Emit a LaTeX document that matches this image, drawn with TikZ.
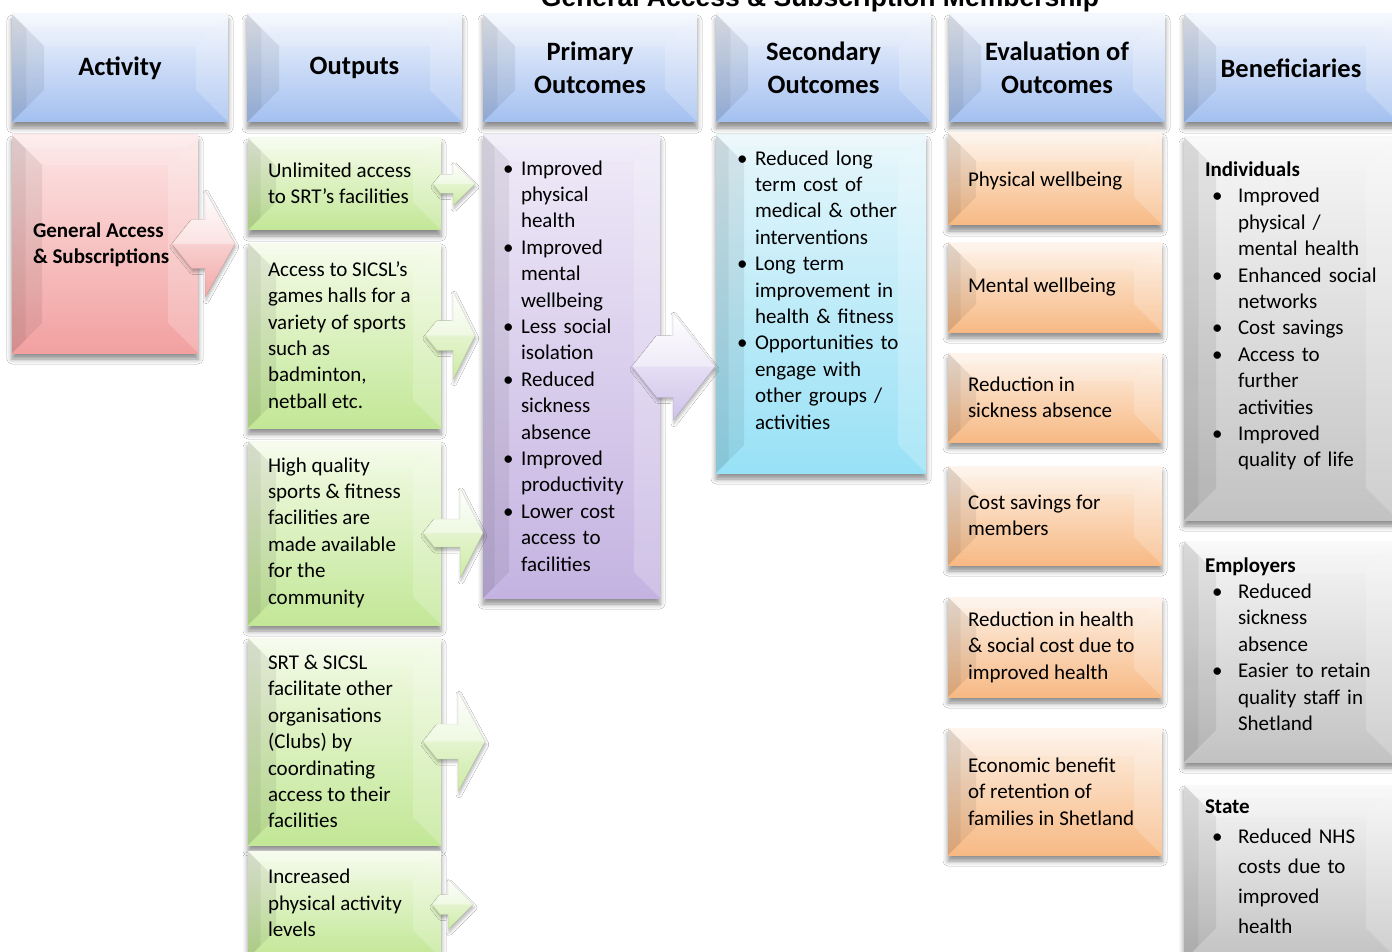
\documentclass[tikz,border=0pt]{standalone}
\usepackage{fontspec}
\setmainfont{Carlito}
\newfontfamily\titlefont{Liberation Sans}
\usetikzlibrary{calc,shadows.blur}

\definecolor{hdrT}{HTML}{F2F6FD}\definecolor{hdrB}{HTML}{A3C0F0}
\definecolor{actT}{HTML}{FDE6E6}\definecolor{actB}{HTML}{F2A0A0}
\definecolor{outT}{HTML}{F4FBE8}\definecolor{outB}{HTML}{C2E796}
\definecolor{priT}{HTML}{EFEAF8}\definecolor{priB}{HTML}{C4B3E1}
\definecolor{secT}{HTML}{E6F6FB}\definecolor{secB}{HTML}{98E1F6}
\definecolor{evT}{HTML}{FEF2E7}\definecolor{evB}{HTML}{F7B984}
\definecolor{benT}{HTML}{F7F7F7}\definecolor{benB}{HTML}{C2C2C2}
\definecolor{actA}{HTML}{F2A8A8}
\definecolor{outA}{HTML}{CDEBA6}
\definecolor{priA}{HTML}{CFC3EA}

\def\bevd{30}
\tikzset{
  bevel/.store in=\bevd,
  bevbox/.style={rectangle, inner sep=0pt, outer sep=0pt, anchor=north west,
    blur shadow={shadow xshift=0pt, shadow yshift=-6pt, shadow blur radius=5pt, shadow opacity=45},
    path picture={
      \coordinate (ppa) at (path picture bounding box.north west);
      \coordinate (ppb) at (path picture bounding box.south east);
      \coordinate (ppc) at (ppa|-ppb);
      \coordinate (ppd) at (ppb|-ppa);
      \fill[black,opacity=.07] (ppa) -- ($(ppa)+(\bevd,\bevd)$) -- ($(ppc)+(\bevd,-\bevd)$) -- (ppc) -- cycle;
      \fill[black,opacity=.05] (ppa) -- ($(ppa)+(0.45*\bevd,0.45*\bevd)$) -- ($(ppc)+(0.45*\bevd,-0.45*\bevd)$) -- (ppc) -- cycle;
      \fill[white,opacity=.2] (ppd) -- ($(ppd)+(-\bevd,\bevd)$) -- ($(ppb)+(-\bevd,-\bevd)$) -- (ppb) -- cycle;
      \fill[white,opacity=.14] (ppa) -- (ppd) -- ($(ppd)+(-\bevd,\bevd)$) -- ($(ppa)+(\bevd,\bevd)$) -- cycle;
      \fill[white,opacity=.2] (ppa) -- (ppd) -- ($(ppd)+(-0.4*\bevd,0.4*\bevd)$) -- ($(ppa)+(0.4*\bevd,0.4*\bevd)$) -- cycle;
    }},
  hdr/.style={bevbox, top color=hdrT, bottom color=hdrB, bevel=32, align=center,
    font=\bfseries\fontsize{26.5}{33}\selectfont},
  actbox/.style={bevbox, top color=actT, bottom color=actB},
  outbox/.style={bevbox, top color=outT, bottom color=outB, bevel=28},
  pribox/.style={bevbox, top color=priT, bottom color=priB, bevel=26},
  secbox/.style={bevbox, top color=secT, bottom color=secB, bevel=28},
  evbox/.style={bevbox, top color=evT, bottom color=evB, bevel=28},
  benbox/.style={bevbox, top color=benT, bottom color=benB, bevel=32},
  txt/.style={anchor=west, inner sep=0pt, outer sep=0pt, align=left,
    font=\fontsize{21}{26.4}\selectfont},
}

\newcommand\bx[7]{% name, style, x1, y1, x2, y2, content
  \pgfmathsetmacro\bw{#5-#3}\pgfmathsetmacro\bh{#6-#4}%
  \node[#2, minimum width=\bw pt, minimum height=\bh pt] (#1) at (#3,#4) {#7};}

\newcommand\barrow[8]{% anchor, start, headbase, tip, shaft half, head half, color, name
  \coordinate (#8) at (#1);
  \pgfmathsetmacro\bn{#2+0.8*#5}%
  \begin{scope}[shift={(#8)}]
    \path[blur shadow={shadow xshift=1pt, shadow yshift=-3pt, shadow blur radius=3pt, shadow opacity=30},
      top color=white, bottom color=#7, middle color=#7!55!white, draw=#7!75!black, draw opacity=.35, line width=.5pt]
      (#2,0) -- (\bn,-#5) -- (#3,-#5) -- (#3,-#6) -- (#4,0) -- (#3,#6) -- (#3,#5) -- (\bn,#5) -- cycle;
    \fill[white,opacity=.4] (#2,0) -- (\bn,-#5) -- (#3,-#5) -- (#3,-#6) -- (#4,0) -- cycle;
  \end{scope}}

\newcommand\nl{\hfil\break}
\newcommand\bit[1]{\par\hangindent=18pt\hangafter=1\noindent\makebox[18pt][l]{\textbullet}#1\par}
\newcommand\bbit[1]{\par\hangindent=33pt\hangafter=1\noindent\hspace*{7pt}\makebox[26pt][l]{\textbullet}#1\par}

\begin{document}
\begin{tikzpicture}[x=1pt, y=-1pt]
\useasboundingbox (0,0) rectangle (1392,952);
\fill[white] (0,0) rectangle (1392,952);

\node[anchor=base, inner sep=0pt, font=\titlefont\bfseries\fontsize{26.5}{30}\selectfont] (title) at (820,7) {General Access \& Subscription Membership};

% headers
\bx{h1}{hdr}{12}{14}{228}{122}{Activity}
\bx{h2}{hdr}{247}{14}{462}{122}{Outputs}
\bx{h3}{hdr}{483}{14}{697}{122}{Primary\\Outcomes}
\bx{h4}{hdr}{716}{14}{931}{122}{Secondary\\Outcomes}
\bx{h5}{hdr}{949}{14}{1165}{122}{Evaluation of\\Outcomes}
\bx{h6}{hdr}{1184}{14}{1398}{122}{Beneficiaries}

% activity
\bx{act}{actbox}{12}{135}{198}{353}{}
\node[txt, font=\bfseries\fontsize{21}{26.4}\selectfont] (tact) at (33,245) {General Access\\\& Subscriptions};

% outputs
\bx{out1}{outbox}{248}{138}{441}{230}{}
\bx{out2}{outbox}{248}{243}{441}{428}{}
\bx{out3}{outbox}{248}{441}{441}{625}{}
\bx{out4}{outbox}{248}{638}{441}{845}{}
\bx{out5}{outbox}{248}{851}{441}{958}{}
\node[txt] (tout1) at (268,183) {Unlimited access\\to SRT’s facilities};
\node[txt] (tout2) at (268,335) {Access to SICSL’s\\games halls for a\\variety of sports\\such as\\badminton,\\netball etc.};
\node[txt] (tout3) at (268,532.5) {High quality\\sports \& fitness\\facilities are\\made available\\for the\\community};
\node[txt] (tout4) at (268,741.5) {SRT \& SICSL\\facilitate other\\organisations\\(Clubs) by\\coordinating\\access to their\\facilities};
\node[txt] (tout5) at (268,903) {Increased\\physical activity\\levels};

% primary
\bx{pri}{pribox}{483}{135}{660}{598}{}
\node[txt, text width=160pt] (tpri) at (503,360) {%
\bit{Improved\nl physical\nl health}\bit{Improved\nl mental\nl wellbeing}\bit{Less social\nl isolation}%
\bit{Reduced\nl sickness\nl absence}\bit{Improved\nl productivity}\bit{Lower cost\nl access to\nl facilities}};

% secondary
\bx{sec}{secbox}{716}{135}{926}{473}{}
\node[txt, text width=190pt] (tsec) at (737,284) {%
\bit{Reduced long\nl term cost of\nl medical \& other\nl interventions}\bit{Long term\nl improvement in\nl health \& fitness}%
\bit{Opportunities to\nl engage with\nl other groups /\nl activities}};

% evaluation
\bx{ev1}{evbox}{948}{133}{1162}{225}{}
\bx{ev2}{evbox}{948}{242}{1162}{332}{}
\bx{ev3}{evbox}{948}{353}{1162}{442}{}
\bx{ev4}{evbox}{948}{466}{1162}{565}{}
\bx{ev5}{evbox}{948}{597}{1162}{697}{}
\bx{ev6}{evbox}{948}{728}{1162}{855}{}
\node[txt] (tev1) at (968,181) {Physical wellbeing};
\node[txt] (tev2) at (968,287) {Mental wellbeing};
\node[txt] (tev3) at (968,397) {Reduction in\\sickness absence};
\node[txt] (tev4) at (968,515.5) {Cost savings for\\members};
\node[txt] (tev5) at (968,647) {Reduction in health\\\& social cost due to\\improved health};
\node[txt] (tev6) at (968,791.5) {Economic benefit\\of retention of\\families in Shetland};

% beneficiaries
\bx{ben1}{benbox}{1184}{137}{1398}{520}{}
\bx{ben2}{benbox}{1184}{541}{1398}{762}{}
\bx{ben3}{benbox}{1184}{785}{1398}{960}{}
\node[txt, text width=190pt] (tben1) at (1205,316) {%
\textbf{Individuals}\bbit{Improved\nl physical /\nl mental health}\bbit{Enhanced social\nl networks}%
\bbit{Cost savings}\bbit{Access to\nl further\nl activities}\bbit{Improved\nl quality of life}};
\node[txt, text width=190pt] (tben2) at (1205,644) {%
\textbf{Employers}\bbit{Reduced\nl sickness\nl absence}\bbit{Easier to retain\nl quality staff in\nl Shetland}};
\node[txt, text width=190pt, font=\fontsize{21}{30}\selectfont] (tben3) at (1205,867) {%
\textbf{State}\bbit{Reduced NHS\nl costs due to\nl improved\nl health}};

% arrows
\barrow{act.east}{-26}{7}{37}{24.5}{53.5}{actA}{aw0}
\barrow{out1.east}{-8}{12}{34}{9.5}{21.5}{outA}{aw1}
\barrow{out2.east}{-16}{12}{34}{15}{44}{outA}{aw2}
\barrow{out3.east}{-18}{19}{42}{14}{45}{outA}{aw3}
\barrow{out4.east}{-18}{17}{44}{17.5}{50}{outA}{aw4}
\barrow{out5.east}{-9}{7}{32}{10}{25}{outA}{aw5}
\barrow{pri.east}{-28}{13}{55}{31}{54}{priA}{aw6}
\end{tikzpicture}
\end{document}
